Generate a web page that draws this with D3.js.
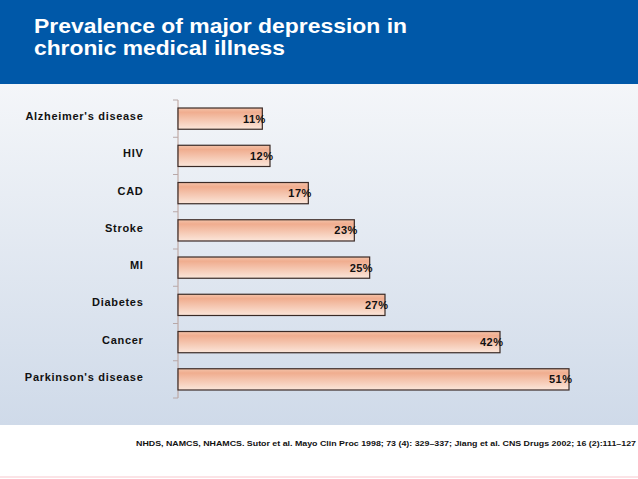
<!DOCTYPE html>
<html><head><meta charset="utf-8">
<script src="https://cdn.jsdelivr.net/npm/d3@7/dist/d3.min.js"></script>
<style>html,body{margin:0;padding:0;background:#fff;}svg{display:block;}</style>
</head><body>
<script>
const categories = ["Alzheimer's disease","HIV","CAD","Stroke","MI","Diabetes","Cancer","Parkinson's disease"];
const values = [11,12,17,23,25,27,42,51];
const titleLines = ["Prevalence of major depression in","chronic medical illness"];
const footnote = "NHDS, NAMCS, NHAMCS. Sutor et al. Mayo Clin Proc 1998; 73 (4): 329–337; Jiang et al. CNS Drugs 2002; 16 (2):111–127";

const W = 638, H = 479;
const svg = d3.select("body").append("svg").attr("width", W).attr("height", H);
const defs = svg.append("defs");
const bg = defs.append("linearGradient").attr("id","bg").attr("x1",0).attr("y1",0).attr("x2",0).attr("y2",1);
bg.append("stop").attr("offset","0%").attr("stop-color","#f4f6f9");
bg.append("stop").attr("offset","100%").attr("stop-color","#cfdae9");
const bar = defs.append("linearGradient").attr("id","bar").attr("x1",0).attr("y1",0).attr("x2",0).attr("y2",1);
bar.append("stop").attr("offset","0%").attr("stop-color","#f4c3a9");
bar.append("stop").attr("offset","20%").attr("stop-color","#f0ad8f");
bar.append("stop").attr("offset","100%").attr("stop-color","#fbe6da");

svg.append("rect").attr("x",0).attr("y",0).attr("width",W).attr("height",H).attr("fill","#fff");
svg.append("rect").attr("x",0).attr("y",84).attr("width",W).attr("height",341).attr("fill","url(#bg)");
svg.append("rect").attr("x",0).attr("y",0).attr("width",W).attr("height",84).attr("fill","#0058a8");
svg.append("line").attr("x1",0).attr("x2",W).attr("y1",477).attr("y2",477).attr("stroke","#fbe3e6").attr("stroke-width",2);

const titleLens = [373, 251];
svg.append("g").selectAll("text").data(titleLines).join("text")
  .attr("fill","#fff")
  .attr("font-family","Liberation Sans, Arial, sans-serif").attr("font-weight","bold").attr("font-size","19.5px")
  .attr("x",34).attr("y",(d,i)=>i?54.5:32.5)
  .attr("textLength",(d,i)=>titleLens[i]).attr("lengthAdjust","spacingAndGlyphs").text(d=>d);

const x = d3.scaleLinear().domain([0,60]).range([178,638]);
const y = d3.scaleBand().domain(categories).range([100,398]).paddingInner(0.43).paddingOuter(0.215);

// axis
const axisG = svg.append("g").attr("transform","translate(178,0)");
const yTicks = d3.range(categories.length+1).map(i=>100 + i*(298/categories.length));
axisG.append("line").attr("x1",0).attr("x2",0).attr("y1",100).attr("y2",398).attr("stroke","#b89c94").attr("stroke-width",1);
axisG.selectAll("line.tk").data(yTicks).join("line").attr("class","tk")
  .attr("x1",-5).attr("x2",0).attr("y1",d=>d).attr("y2",d=>d).attr("stroke","#b8a8a8");

svg.append("g").selectAll("rect").data(values).join("rect")
  .attr("x",x(0)).attr("y",(d,i)=>y(categories[i]))
  .attr("width",d=>x(d)-x(0)).attr("height",y.bandwidth())
  .attr("fill","url(#bar)").attr("stroke","#3a2a26").attr("stroke-width",1.2);

svg.append("g").selectAll("text").data(values).join("text")
  .attr("x",d=>x(d)+3.5).attr("y",(d,i)=>y(categories[i])+y.bandwidth()/2+4)
  .attr("text-anchor","end").attr("font-family","Liberation Sans, Arial, sans-serif")
  .attr("letter-spacing","0.5px")
  .attr("font-weight","bold").attr("font-size","11px").attr("fill","#111").text(d=>d+"%");

svg.append("g").selectAll("text").data(categories).join("text")
  .attr("x",143.5).attr("y",d=>y(d)+y.bandwidth()/2+1.5)
  .attr("text-anchor","end").attr("font-family","Liberation Sans, Arial, sans-serif")
  .attr("letter-spacing","0.7px")
  .attr("font-weight","bold").attr("font-size","11px").attr("fill","#111").text(d=>d);

svg.append("text").attr("x",136).attr("y",446).attr("font-family","Liberation Sans, Arial, sans-serif")
  .attr("font-weight","bold").attr("font-size","8px").attr("fill","#111")
  .attr("textLength",500).attr("lengthAdjust","spacingAndGlyphs").text(footnote);
</script>
</body></html>
